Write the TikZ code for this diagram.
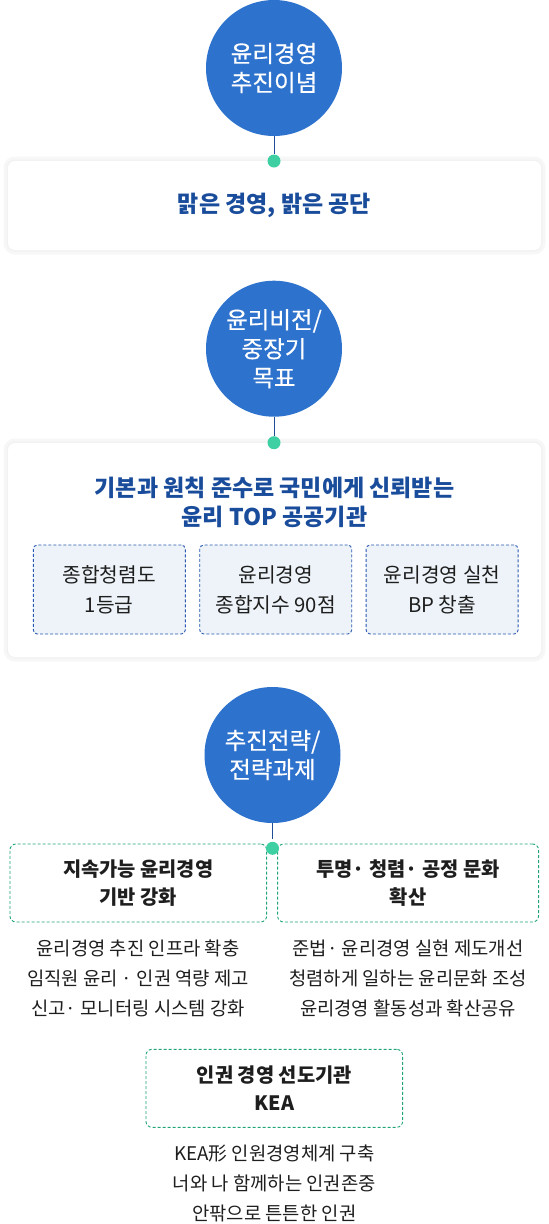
\documentclass[tikz,border=0pt]{standalone}
\usepackage{fontspec}
\newfontfamily\kr{Noto Sans CJK KR}
\newfontfamily\krmed[FakeBold=0.35]{Noto Sans CJK KR}
\usepackage{xcolor}
\usetikzlibrary{positioning}

\definecolor{orb}{HTML}{2D72CC}
\definecolor{stem}{HTML}{1F4E96}
\definecolor{mint}{HTML}{3ECFA2}
\definecolor{navy}{HTML}{1A4C9C}
\definecolor{dashblue}{HTML}{2A58B0}
\definecolor{paleblue}{HTML}{EDF3F8}
\definecolor{dashgreen}{HTML}{22A477}
\definecolor{ink}{HTML}{1E1E1E}

\tikzset{
	orbnode/.style={circle, fill=orb, minimum size=136pt, inner sep=0pt, align=center,
		text=white, font=\krmed\fontsize{23.5}{29}\selectfont},
	knot/.style={circle, fill=mint, minimum size=13pt, inner sep=0pt},
	stemline/.style={draw=stem, line width=1pt, shorten >=2.5pt},
	card/.style={rounded corners=7pt, fill=white, inner sep=0pt,
		preaction={draw=black!3, line width=9pt},
		preaction={draw=black!5, line width=3pt}},
	headline/.style={align=center, text=navy, font=\kr\bfseries\fontsize{23}{29}\selectfont},
	metric/.style={draw=dashblue, line width=0.9pt, dash pattern=on 3pt off 2pt, fill=paleblue,
		rounded corners=4pt, minimum width=152pt, minimum height=89pt, inner sep=0pt, align=center,
		text=ink, font=\kr\fontsize{20.3}{30}\selectfont},
	track/.style={draw=dashgreen, line width=0.9pt, dash pattern=on 3pt off 2pt, rounded corners=6pt,
		minimum height=78pt, inner sep=0pt, align=center,
		text=ink, font=\kr\bfseries\fontsize{19.8}{28}\selectfont},
	tasks/.style={align=center, text=ink, font=\kr\fontsize{18.8}{30}\selectfont}
}

\begin{document}
\begin{tikzpicture}	[x=1pt,y=-1pt]
	
	\useasboundingbox (0,0) rectangle (549,1224);
	
	% white cards behind everything
	\node[card, minimum width=533pt, minimum height=89pt]  (b1) at (274.5,205.5) {};
	\node[card, minimum width=533pt, minimum height=214pt] (b2) at (274.5,550) {};
	
	\node[orbnode] (c1) at (274,68)    {윤리경영\\추진이념};
	\node[orbnode] (c2) at (274,348.7) {윤리비전/\\중장기\\목표};
	\node[orbnode] (c3) at (272.5,755) {추진전략/\\전략과제};
	
	\path
		(274.5,205) node[headline] (t1) {맑은 경영, 밝은 공단}
		(274.5,502.5) node[headline] (t2) {기본과 원칙 준수로 국민에게 신뢰받는\\윤리 TOP 공공기관};
	
	\node[metric] (m1) at (109.3,589.5) {종합청렴도\\1등급};
	\node[metric, right=13.5pt of m1] (m2) {윤리경영\\종합지수 90점};
	\node[metric, right=13.5pt of m2] (m3) {윤리경영 실천\\BP 창출};
	
	\node[track, minimum width=256.7pt] (g1) at (138.3,883)  {지속가능 윤리경영\\기반 강화};
	\node[track, minimum width=261pt]   (g2) at (408.1,883)  {투명· 청렴· 공정 문화\\확산};
	\node[track, minimum width=256.7pt] (g3) at (274.3,1088.3) {인권 경영 선도기관\\KEA};
	
	\path
		(138,978)     node[tasks] (l1) {윤리경영 추진 인프라 확충\\임직원 윤리 · 인권 역량 제고\\신고· 모니터링 시스템 강화}
		(408,978)     node[tasks] (l2) {준법· 윤리경영 실현 제도개선\\청렴하게 일하는 윤리문화 조성\\윤리경영 활동성과 확산공유}
		(274.3,1183.5) node[tasks] (l3) {KEA形 인원경영체계 구축\\너와 나 함께하는 인권존중\\안팎으로 튼튼한 인권};
	
	% stems and joints
	\node[knot] (d1) at (274,161)     {};
	\node[knot] (d2) at (274,442.7)   {};
	\node[knot] (d3) at (272.5,848.3) {};
	\draw[stemline] (c1) -- (d1)  (c2) -- (d2)  (c3) -- (d3);
	
\end{tikzpicture}
\end{document}
